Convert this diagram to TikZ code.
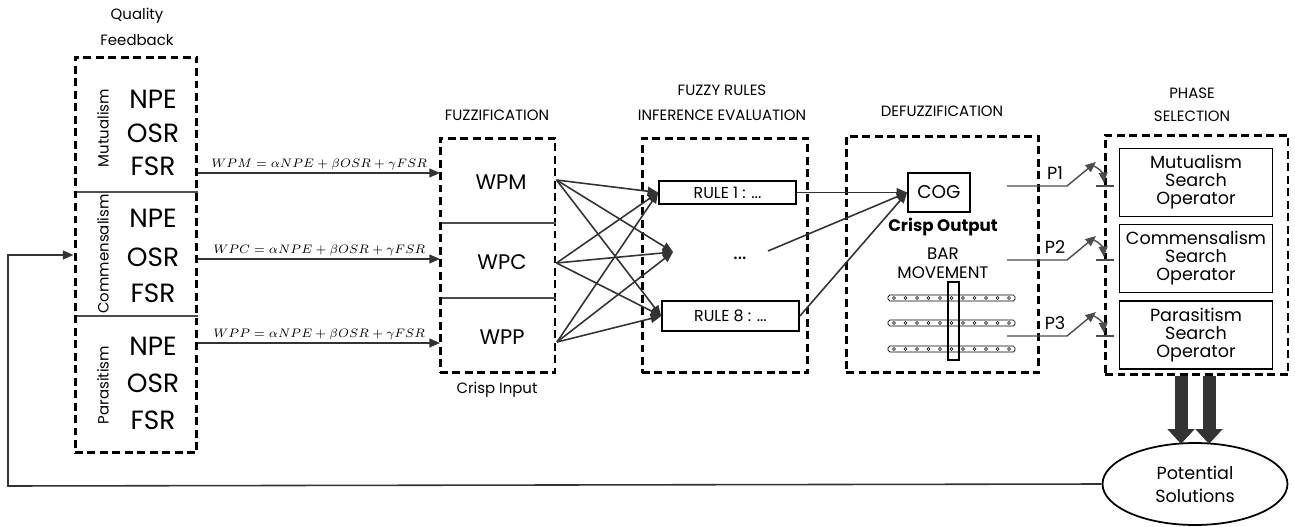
\documentclass[tikz,border=0pt]{standalone}
\usepackage{amsmath}
\usepackage{fontspec}
\setmainfont{Poppins}
\usetikzlibrary{arrows.meta,positioning,shapes.geometric}

\begin{document}
\begin{tikzpicture}[x=0.02cm,y=-0.02cm,
    dbox/.style={draw,line width=1.7pt,dash pattern=on 4.5pt off 2.6pt,inner sep=0pt},
    lbl/.style={font=\fontsize{8.5}{14.5}\selectfont,align=center},
    arr/.style={draw=black!80,line width=0.9pt,-{Triangle[length=6pt,width=5pt]}},
    sepline/.style={draw=black!70,line width=0.6pt},
    big/.style={font=\fontsize{15}{16}\selectfont},
    mid/.style={font=\fontsize{12}{13}\selectfont},
    side/.style={rotate=90,font=\fontsize{8.5}{10}\selectfont},
    rulebox/.style n args={2}{draw,line width=1pt,minimum width=#1,minimum height=#2,font=\fontsize{9}{10}\selectfont},
    opbox/.style={draw,line width=1pt,minimum width=3.06cm,minimum height=1.36cm,align=center,font=\fontsize{10}{10.2}\selectfont},
    formula/.style={font=\fontsize{7}{8}\selectfont,inner sep=1.5pt},
    bigarr/.style={draw=black!80,line width=7.4pt,-{Triangle[width=15pt,length=8.5pt]}}
  ]
  \useasboundingbox (0,0) rectangle (1295,527);

  % quality feedback
  \node (qflbl) [lbl] at (137,27) {Quality\\Feedback};
  \node (qf) [dbox,minimum width=2.44cm,minimum height=7.92cm] at (136,255) {};
  \draw[sepline] (77,192) -- (qf.east |- 0,192);
  \draw[sepline] (77,316) -- (qf.east |- 0,316);
  \node (mut) [side] at (103,128) {Mutualism};
  \node (com) [side] at (103,254) {Commensalism};
  \node (par) [side] at (103,385) {Parasitism};
  \foreach \g/\ya/\yb/\yc in {m/99/133/166,c/218/257/293,p/346/383/420}{
    \node (npe\g) [big] at (153,\ya) {NPE};
    \node (osr\g) [big] at (153,\yb) {OSR};
    \node (fsr\g) [big] at (153,\yc) {FSR};
  }

  % fuzzification
  \node (fzlbl) [lbl] at (497,115) {FUZZIFICATION};
  \node (fz) [dbox,minimum width=2.3cm,minimum height=4.7cm] at (497.5,255.5) {};
  \draw[sepline] (442,223) -- (fz.east |- 0,223);
  \draw[sepline] (442,298) -- (fz.east |- 0,298);
  \node (wpm) [mid] at (501,182) {WPM};
  \node (wpc) [mid] at (502,262) {WPC};
  \node (wpp) [mid] at (502,337) {WPP};
  \node (crin) [lbl] at (497,390) {Crisp Input};

  \coordinate (in1) at (440,173);
  \coordinate (in2) at (440,259);
  \coordinate (in3) at (440,343);
  \draw[arr] (qf.east |- in1) -- node[formula,above] {$WPM = \alpha NPE + \beta OSR + \gamma FSR$} (in1);
  \draw[arr] (qf.east |- in2) -- node[formula,above] {$WPC = \alpha NPE + \beta OSR + \gamma FSR$} (in2);
  \draw[arr] (qf.east |- in3) -- node[formula,above] {$WPP = \alpha NPE + \beta OSR + \gamma FSR$} (in3);

  % fuzzy rules
  \node (frlbl) [lbl] at (722,103) {FUZZY RULES\\INFERENCE EVALUATION};
  \node (fr) [dbox,minimum width=3.32cm,minimum height=4.7cm] at (725,255.5) {};
  \node (r1) [rulebox={2.74cm}{0.42cm}] at (727.5,192.5) {RULE 1 : ...};
  \node (r8) [rulebox={2.74cm}{0.6cm}] at (730.5,316) {RULE 8 : ...};
  \node (dots) [mid] at (740,258) {...};
  \coordinate (dtin) at (673,252);
  \coordinate (dtout) at (768,251);

  \coordinate (wpmout) at (fz.east |- 0,180);
  \coordinate (wpcout) at (fz.east |- 0,263);
  \coordinate (wppout) at (557,342);
  \foreach \s in {wpmout,wpcout,wppout}{
    \draw[arr] (\s) -- (r1.west);
    \draw[arr] (\s) -- (dtin);
    \draw[arr] (\s) -- (r8.west);
  }

  % defuzzification
  \node (dflbl) [lbl] at (942,111) {DEFUZZIFICATION};
  \node (df) [dbox,minimum width=3.86cm,minimum height=4.74cm] at (942.5,254.5) {};
  \node (cog) [rulebox={1.24cm}{0.78cm},font=\fontsize{10.5}{11}\selectfont] at (939,192.5) {COG};
  \node (crout) [font=\fontsize{9.5}{10}\selectfont\bfseries] at (943,227) {Crisp Output};
  \node (bar) [font=\fontsize{9.5}{10.8}\selectfont,align=center] at (943,263.5) {BAR\\MOVEMENT};
  \draw[arr] (r1.east) -- (cog.west);
  \draw[arr] (dtout) -- (cog.west);
  \draw[arr] (r8.east) -- (cog.west);

  % bar movement picture
  \foreach \yb in {298,323,349}{
    \draw[line width=0.4pt,rounded corners=1pt] (888,\yb-3) rectangle (1015,\yb+3);
    \foreach \k in {0,...,10}
      \draw[line width=0.3pt] (894+11.5*\k,\yb) circle (0.8pt);
  }
  \draw[line width=0.7pt] (948,282) rectangle (959,360);

  % phase selection
  \node (pslbl) [lbl,font=\fontsize{8.5}{13}\selectfont] at (1192,105) {PHASE\\SELECTION};
  \node (ps) [dbox,minimum width=3.66cm,minimum height=4.8cm] at (1196.5,255) {};
  \node (opm) [opbox] at (1196,182.5) {Mutualism\\Search\\Operator};
  \node (opc) [opbox] at (1196,258.5) {Commensalism\\Search\\Operator};
  \node (opp) [opbox] at (1196,335) {Parasitism\\Search\\Operator};

  % switches
  \foreach \i/\y in {1/186,2/260,3/336}{
    \coordinate (sw\i a) at (1007,\y);
    \coordinate (sw\i b) at (1067,\y);
    \coordinate (sw\i c) at (1096,\y-24);
    \coordinate (sw\i d) at (1090,\y-21);
    \coordinate (sw\i e) at (1104,\y-3);
    \coordinate (sw\i f) at (1096,\y);
    \coordinate (sw\i g) at (1114,\y);
    \draw[sepline,line width=0.8pt,-{Triangle[length=6pt,width=5pt]}] (sw\i a) -- (sw\i b) -- (sw\i c);
    \draw[sepline,line width=0.8pt,-{Triangle[length=6pt,width=5pt]}] (sw\i d) to[out=-10,in=95] (sw\i e);
    \draw[sepline,line width=0.8pt] (sw\i f) -- (sw\i g);
    \node (p\i) [font=\fontsize{10}{11}\selectfont] at (1055,\y-13) {P\i};
  }

  % potential solutions
  \node (pot) [draw,ellipse,line width=1pt,minimum width=3.7cm,minimum height=1.64cm,align=center,font=\fontsize{10}{13}\selectfont] at (1195,484) {Potential\\Solutions};
  \coordinate (ba1) at (1181,444);
  \coordinate (ba2) at (1209,444);
  \draw[bigarr] (ps.south -| ba1) -- (ba1);
  \draw[bigarr] (ps.south -| ba2) -- (ba2);

  % feedback loop
  \coordinate (fbc) at (8,486);
  \draw[arr] (pot.west) -- (fbc) |- (qf.west);
\end{tikzpicture}
\end{document}
